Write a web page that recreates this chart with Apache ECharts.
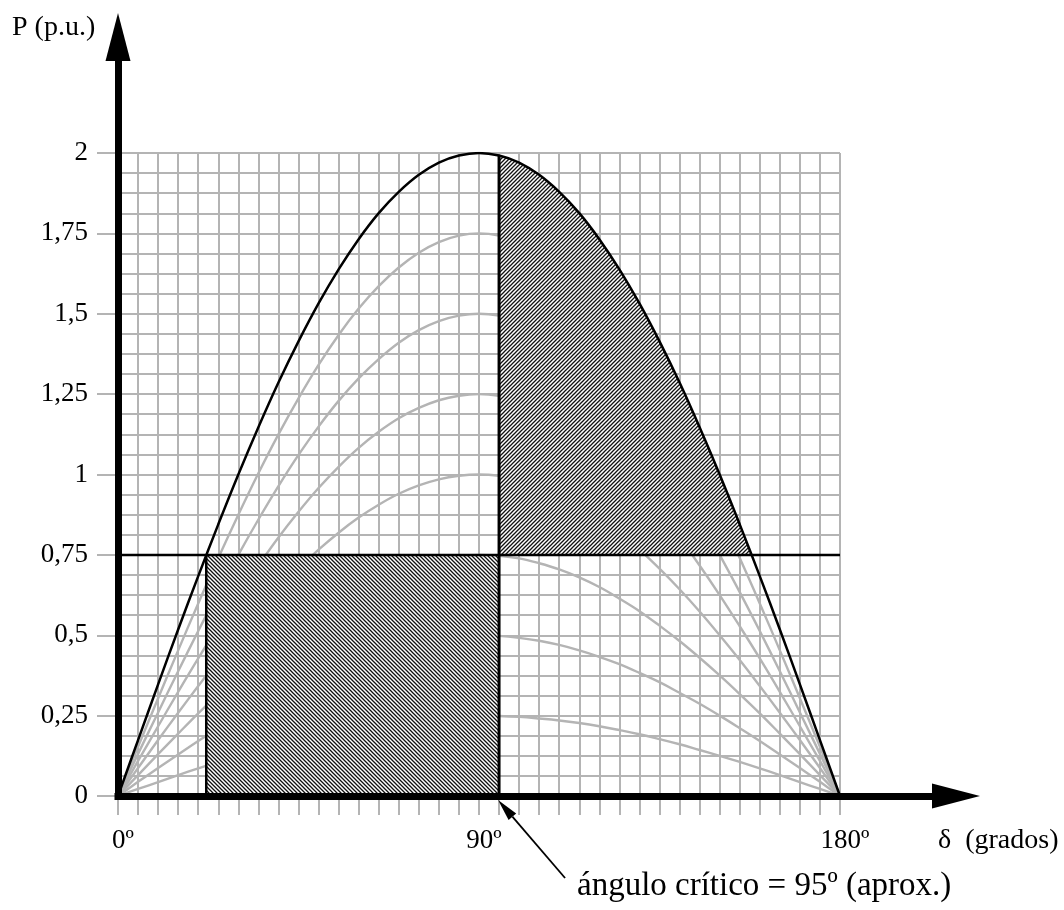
<!DOCTYPE html>
<html>
<head>
<meta charset="utf-8">
<title>Criterio de areas iguales</title>
<script src="https://cdn.jsdelivr.net/npm/echarts@6/dist/echarts.min.js"></script>
<style>
  html, body { margin: 0; padding: 0; background: #fff; }
  #chart { width: 1064px; height: 910px; }
</style>
</head>
<body>
<div id="chart"></div>
<script>
// angulo de carga delta (grados)
var delta = [0, 5, 10, 15, 20, 25, 30, 35, 40, 45, 50, 55, 60, 65, 70, 75, 80, 85, 90,
	95, 100, 105, 110, 115, 120, 125, 130, 135, 140, 145, 150, 155, 160, 165, 170, 175, 180];

// curva P-delta de la maquina (negra, Pmax = 2)
var pMax2 = [0, .174, .347, .518, .684, .845, 1.0, 1.147, 1.286, 1.414, 1.532, 1.638, 1.732, 1.813, 1.879, 1.932, 1.970, 1.992, 2.0,
	1.992, 1.970, 1.932, 1.879, 1.813, 1.732, 1.638, 1.532, 1.414, 1.286, 1.147, 1.0, .845, .684, .518, .347, .174, 0];

// curvas grises de referencia
var p175 = [0, .153, .304, .453, .599, .740, .875, 1.004, 1.125, 1.237, 1.341, 1.434, 1.516, 1.586, 1.644, 1.690, 1.723, 1.743, 1.75,
	1.743, 1.723, 1.690, 1.644, 1.586, 1.516, 1.434, 1.341, 1.237, 1.125, 1.004, .875, .740, .599, .453, .304, .153, 0];
var p150 = [0, .131, .260, .388, .513, .634, .75, .860, .964, 1.061, 1.149, 1.229, 1.299, 1.359, 1.410, 1.449, 1.477, 1.494, 1.5,
	1.494, 1.477, 1.449, 1.410, 1.359, 1.299, 1.229, 1.149, 1.061, .964, .860, .75, .634, .513, .388, .260, .131, 0];
var p125 = [0, .109, .217, .324, .428, .528, .625, .717, .804, .884, .958, 1.024, 1.083, 1.133, 1.175, 1.207, 1.231, 1.245, 1.25,
	1.245, 1.231, 1.207, 1.175, 1.133, 1.083, 1.024, .958, .884, .804, .717, .625, .528, .428, .324, .217, .109, 0];
var p100 = [0, .087, .174, .259, .342, .423, .5, .574, .643, .707, .766, .819, .866, .906, .940, .966, .985, .996, 1,
	.996, .985, .966, .940, .906, .866, .819, .766, .707, .643, .574, .5, .423, .342, .259, .174, .087, 0];
var p075 = [0, .065, .130, .194, .257, .317, .375, .430, .482, .530, .575, .614, .650, .680, .705, .724, .739, .747, .75,
	.747, .739, .724, .705, .680, .650, .614, .575, .530, .482, .430, .375, .317, .257, .194, .130, .065, 0];
var p050 = [0, .044, .087, .129, .171, .211, .25, .287, .321, .354, .383, .410, .433, .453, .470, .483, .492, .498, .5,
	.498, .492, .483, .470, .453, .433, .410, .383, .354, .321, .287, .25, .211, .171, .129, .087, .044, 0];
var p025 = [0, .022, .043, .065, .086, .106, .125, .143, .161, .177, .192, .205, .217, .227, .235, .241, .246, .249, .25,
	.249, .246, .241, .235, .227, .217, .205, .192, .177, .161, .143, .125, .106, .086, .065, .043, .022, 0];
var grayCurves = [p175, p150, p125, p100, p075, p050, p025];

// potencia mecanica y angulos caracteristicos
var pMec = 0.75;
var deltaIni = 22;
var deltaCrit = 95;
var pCrit = 1.992;

// area de aceleracion (rectangulo) y de deceleracion (bajo la curva)
var accDelta = [22, 95];
var decDelta = [95, 100, 105, 110, 115, 120, 125, 130, 135, 140, 145, 150, 155, 158];
var decP = [1.992, 1.970, 1.932, 1.879, 1.813, 1.732, 1.638, 1.532, 1.414, 1.286, 1.147, 1.0, .845, .749];

// etiquetas del eje x
var xLabels = [0, 90, 180];

var serif = '"Liberation Serif", "DejaVu Serif", serif';
var gridGray = '#b4b4b4';

function zip(xs, ys) {
	return xs.map(function (x, i) { return [x, ys[i]]; });
}

// trama rayada para las areas
function hatch(dir) {
	var c = document.createElement('canvas');
	c.width = 4;
	c.height = 4;
	var g = c.getContext('2d');
	g.fillStyle = 'rgba(255,255,255,0.92)';
	g.fillRect(0, 0, 4, 4);
	g.strokeStyle = '#111';
	g.lineWidth = 1.3;
	g.beginPath();
	if (dir === '/') {
		g.moveTo(-1, 1); g.lineTo(1, -1);
		g.moveTo(0, 4); g.lineTo(4, 0);
		g.moveTo(3, 5); g.lineTo(5, 3);
	} else {
		g.moveTo(-1, 3); g.lineTo(1, 5);
		g.moveTo(0, 0); g.lineTo(4, 4);
		g.moveTo(3, -1); g.lineTo(5, 1);
	}
	g.stroke();
	return c;
}

var chart = echarts.init(document.getElementById('chart'));

var series = [];
grayCurves.forEach(function (arr) {
	series.push({
		type: 'line',
		data: zip(delta, arr),
		smooth: 0.4,
		symbol: 'none',
		silent: true,
		z: 2,
		lineStyle: { color: '#b4b4b4', width: 2.4 }
	});
});

series.push({
	type: 'line',
	data: accDelta.map(function (d) { return [d, pMec]; }),
	symbol: 'none',
	silent: true,
	z: 3,
	lineStyle: { width: 0 },
	areaStyle: { color: { image: hatch('\\'), repeat: 'repeat' }, opacity: 1, origin: 0 }
});

series.push({
	type: 'line',
	data: zip(decDelta, decP),
	smooth: 0.4,
	symbol: 'none',
	silent: true,
	z: 3,
	lineStyle: { width: 0 },
	areaStyle: { color: { image: hatch('/'), repeat: 'repeat' }, opacity: 1, origin: pMec }
});

series.push({
	type: 'line',
	data: zip(delta, pMax2),
	smooth: 0.4,
	symbol: 'none',
	silent: true,
	z: 4,
	lineStyle: { color: '#000', width: 2.5 }
});

series.push({
	type: 'line',
	data: [[0, pMec], [180, pMec]],
	symbol: 'none',
	silent: true,
	z: 4,
	lineStyle: { color: '#000', width: 2.5 }
});

series.push({
	type: 'line',
	data: [[deltaCrit, 0], [deltaCrit, pCrit]],
	symbol: 'none',
	silent: true,
	z: 4,
	lineStyle: { color: '#000', width: 3 }
});

series.push({
	type: 'line',
	data: [[deltaIni, 0], [deltaIni, pMec]],
	symbol: 'none',
	silent: true,
	z: 4,
	lineStyle: { color: '#000', width: 2.5 }
});

chart.setOption({
	animation: false,
	backgroundColor: '#fff',
	grid: [
		{ left: 118, right: 224, top: 153, bottom: 114 },
		{ left: 118, right: 108, top: 37, bottom: 114 }
	],
	xAxis: [{
		gridIndex: 0,
		type: 'value',
		min: 0,
		max: 180,
		interval: 5,
		axisLine: { show: false },
		axisTick: { show: true, length: 19, lineStyle: { color: gridGray, width: 2 } },
		splitLine: { show: true, lineStyle: { color: gridGray, width: 2 } },
		axisLabel: {
			margin: 31,
			fontFamily: serif,
			fontSize: 27,
			color: '#000',
			padding: [0, 0, 0, 10],
			formatter: function (v) {
				return xLabels.indexOf(v) >= 0 ? v + 'º' : '';
			}
		}
	}, {
		gridIndex: 1,
		type: 'value',
		min: 0,
		max: 1,
		z: 10,
		axisLine: {
			show: true,
			symbol: ['none', 'triangle'],
			symbolSize: [25, 48],
			lineStyle: { color: '#000', width: 7, cap: 'square' }
		},
		axisTick: { show: false },
		axisLabel: { show: false },
		splitLine: { show: false }
	}],
	yAxis: [{
		gridIndex: 0,
		type: 'value',
		min: 0,
		max: 2,
		interval: 0.25,
		axisLine: { show: false },
		axisTick: { show: true, length: 21, lineStyle: { color: gridGray, width: 2 } },
		splitLine: { show: true, lineStyle: { color: gridGray, width: 2 } },
		minorTick: { show: false, splitNumber: 4 },
		minorSplitLine: { show: true, lineStyle: { color: gridGray, width: 2 } },
		axisLabel: {
			margin: 30,
			fontFamily: serif,
			fontSize: 27,
			color: '#000',
			formatter: function (v) { return String(v).replace('.', ','); }
		}
	}, {
		gridIndex: 1,
		type: 'value',
		min: 0,
		max: 1,
		z: 10,
		axisLine: {
			show: true,
			symbol: ['none', 'triangle'],
			symbolSize: [25, 48],
			lineStyle: { color: '#000', width: 7, cap: 'square' }
		},
		axisTick: { show: false },
		axisLabel: { show: false },
		splitLine: { show: false }
	}],
	series: series
});

// flecha y textos de anotacion
var tip = chart.convertToPixel({ xAxisIndex: 0, yAxisIndex: 0 }, [deltaCrit, 0]);
tip = [tip[0] - 1, tip[1] + 4];
var tail = [tip[0] + 67, tip[1] + 78];
var len = Math.sqrt(67 * 67 + 78 * 78);
var ux = 67 / len, uy = 78 / len;
var headLen = 22, headW = 5;
var bx = tip[0] + ux * headLen, by = tip[1] + uy * headLen;

chart.setOption({
	graphic: [
		{
			type: 'line',
			z: 20,
			shape: { x1: bx, y1: by, x2: tail[0], y2: tail[1] },
			style: { stroke: '#000', lineWidth: 1.8 }
		},
		{
			type: 'polygon',
			z: 20,
			shape: { points: [tip, [bx - uy * headW, by + ux * headW], [bx + uy * headW, by - ux * headW]] },
			style: { fill: '#000' }
		},
		{
			type: 'text',
			left: 12,
			top: 14,
			style: { text: 'P (p.u.)', font: '28px ' + serif, fill: '#000' }
		},
		{
			type: 'text',
			left: 938,
			top: 827,
			style: { text: 'δ  (grados)', font: '28px ' + serif, fill: '#000' }
		},
		{
			type: 'text',
			left: 577,
			top: 870,
			style: { text: 'ángulo crítico = 95º (aprox.)', font: '33px ' + serif, fill: '#000' }
		}
	]
});
</script>
</body>
</html>
